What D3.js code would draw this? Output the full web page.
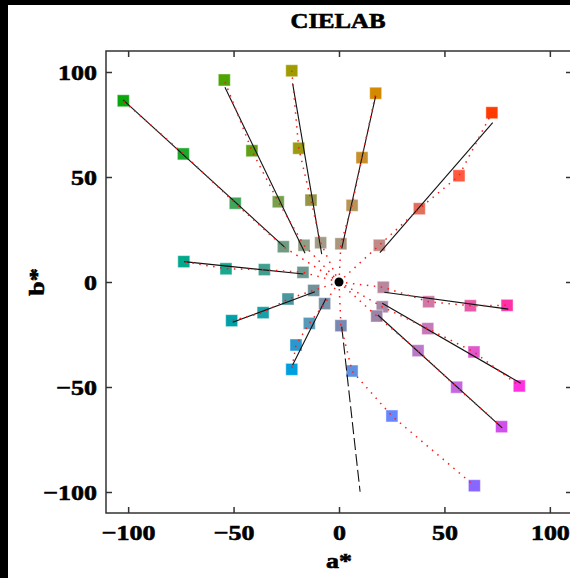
<!DOCTYPE html>
<html>
<head>
<meta charset="utf-8">
<script src="https://cdn.jsdelivr.net/npm/d3@7"></script>
<style>
  html, body { margin: 0; padding: 0; background: #000; }
  svg { display: block; }
  text { font-family: "Liberation Serif", "Times New Roman", serif; font-weight: bold; fill: #000;
         stroke: #000; stroke-width: 0.6px; }
</style>
</head>
<body>
<svg id="chart" width="570" height="578"></svg>
<script>
// ---- data (a*, b* per hue series, 4 chroma steps) ----
const seriesNames = ["green", "yellowGreen", "olive", "gold", "red", "pink",
                     "magenta", "purple", "violet", "teal", "cyan", "blue"];

const aValues = [
  [-102.3, -73.8, -49.2, -26.4],
  [-54.4, -41.3, -28.8, -16.6],
  [-22.4, -19.1, -13.3, -8.7],
  [17.4, 10.9, 6.2, 0.9],
  [72.5, 56.9, 38.1, 19.1],
  [21.0, 42.5, 62.3, 79.7],
  [20.5, 42.1, 64.0, 85.5],
  [17.9, 37.5, 55.8, 77.1],
  [0.9, 6.2, 25.1, 64.2],
  [-73.6, -53.6, -35.4, -17.1],
  [-50.9, -36.0, -24.2, -12.0],
  [-6.8, -14.1, -20.4, -22.4]
];

const bValues = [
  [86.3, 61.0, 37.5, 16.8],
  [96.2, 62.5, 38.2, 17.5],
  [100.6, 63.7, 39.0, 18.7],
  [89.9, 59.2, 36.5, 18.2],
  [80.6, 50.6, 34.9, 17.5],
  [-2.5, -9.4, -11.3, -11.1],
  [-11.8, -22.2, -33.3, -49.5],
  [-16.2, -32.7, -50.1, -68.9],
  [-20.8, -42.4, -63.8, -97.0],
  [9.7, 6.3, 5.9, 4.6],
  [-18.4, -14.6, -8.1, -4.0],
  [-10.3, -19.7, -30.0, -41.6]
];

const chipColors = [
  ["#08a80c", "#1ca82c", "#40a65c", "#6e9c80"],
  ["#4ea400", "#5ea014", "#78a04c", "#8e9e84"],
  ["#a09c00", "#9c9a10", "#969446", "#a09c86"],
  ["#d48a00", "#c8902c", "#b89458", "#a8967e"],
  ["#ff3c00", "#ff5a40", "#e0705c", "#c08a86"],
  ["#b8889e", "#d078a8", "#e85aa8", "#ff30a8"],
  ["#a888a8", "#c878b8", "#e058cc", "#ff30e0"],
  ["#9c84a8", "#b87ac8", "#c468e0", "#d050ec"],
  ["#7888b0", "#6090e0", "#6688ff", "#8866ff"],
  ["#00a88c", "#18a890", "#40a090", "#6e9890"],
  ["#00a0a8", "#18a0a8", "#4898a0", "#70909a"],
  ["#7890a8", "#5898b8", "#2898d0", "#00a0e0"]
];

// fitted lines (black), start and end in a*, b*
const fitFromA = [-102.4, -54.1, -22.0, 17.4, 72.9, 21.5, 20.5, 18.4, 1.3, -73.5, -50.4, -6.2];
const fitFromB = [86.7, 92.7, 94.6, 88.6, 75.9, -4.9, -10.1, -15.7, -21.3, 9.7, -19.2, -7.8];
const fitToA   = [-25.9, -16.1, -8.2, 1.3, 19.4, 80.3, 86.2, 77.4, 10.0, -16.9, -11.4, -22.0];
const fitToB   = [16.7, 13.7, 13.3, 16.0, 14.0, -12.9, -48.2, -69.5, -99.9, 3.8, -4.6, -39.5];
const fitDashed = [false, false, false, false, false, false, false, false, true, false, false, false];

const xTicks = [-100, -50, 0, 50, 100];
const yTicks = [-100, -50, 0, 50, 100];

// ---- layout ----
const svg = d3.select("#chart");
const W = 570, H = 578;
const plot = { left: 106, right: 572, top: 51, bottom: 513 };
const stretch = 1.18; // the reference glyphs are a bit wide

svg.append("rect").attr("x", 8).attr("y", 5).attr("width", W - 8).attr("height", H - 5).attr("fill", "#fff");

const x = d3.scaleLinear().domain([-110.5, 110.5]).range([plot.left, plot.right]);
const y = d3.scaleLinear().domain([-110, 110]).range([plot.bottom, plot.top]);

// frame
svg.append("rect")
  .attr("x", plot.left).attr("y", plot.top)
  .attr("width", plot.right - plot.left).attr("height", plot.bottom - plot.top)
  .attr("fill", "none").attr("stroke", "#333").attr("stroke-width", 1.5);

// axes with inward ticks
function styleAxis(g) {
  g.select(".domain").remove();
  g.selectAll(".tick line").attr("stroke", "#333").attr("stroke-width", 1.5);
  g.selectAll("text").attr("font-family", null).attr("font-size", null);
}

const gx = svg.append("g")
  .attr("transform", `translate(0,${plot.bottom})`)
  .call(d3.axisBottom(x).tickValues(xTicks).tickSize(-6).tickPadding(27).tickFormat(d3.format("d")))
  .call(styleAxis);
gx.selectAll("text").style("font-size", "22px").attr("dy", 0)
  .attr("transform", `scale(${stretch},1)`);

svg.append("g")
  .attr("transform", `translate(0,${plot.top})`)
  .call(d3.axisTop(x).tickValues(xTicks).tickSize(-6).tickFormat(""))
  .call(styleAxis);

const gy = svg.append("g")
  .attr("transform", `translate(${plot.left},0)`)
  .call(d3.axisLeft(y).tickValues(yTicks).tickSize(-6).tickPadding(9).tickFormat(d3.format("d")))
  .call(styleAxis);
gy.selectAll("text").style("font-size", "22px").attr("dy", "0.36em")
  .attr("x", -9 / stretch).attr("transform", `scale(${stretch},1)`);

svg.append("g")
  .attr("transform", `translate(${plot.right},0)`)
  .call(d3.axisRight(y).tickValues(yTicks).tickSize(-6).tickFormat(""))
  .call(styleAxis);

// titles
svg.append("text")
  .attr("transform", `translate(338,28) scale(${stretch},1)`)
  .attr("text-anchor", "middle").style("font-size", "21px")
  .text("CIELAB");

svg.append("text")
  .attr("transform", `translate(339,568) scale(${stretch},1)`)
  .attr("text-anchor", "middle").style("font-size", "22px")
  .text("a*");

svg.append("text")
  .attr("transform", `translate(44,282) rotate(-90) scale(${stretch},1)`)
  .attr("text-anchor", "middle").style("font-size", "22px")
  .text("b*");

// ---- marks ----
const series = seriesNames.map((name, i) => ({
  name,
  chips: aValues[i].map((a, j) => ({ a, b: bValues[i][j], color: chipColors[i][j] })),
  from: [fitFromA[i], fitFromB[i]],
  to: [fitToA[i], fitToB[i]],
  dashed: fitDashed[i]
}));

const sq = 12;
svg.append("g").selectAll("g")
  .data(series).join("g")
  .selectAll("rect")
  .data(d => d.chips).join("rect")
  .attr("x", d => x(d.a) - sq / 2)
  .attr("y", d => y(d.b) - sq / 2)
  .attr("width", sq).attr("height", sq)
  .attr("fill", d => d.color)
  .attr("stroke", "#fff").attr("stroke-opacity", 0.45).attr("stroke-width", 1);

// fitted black lines
svg.append("g").selectAll("line")
  .data(series).join("line")
  .attr("x1", d => x(d.from[0])).attr("y1", d => y(d.from[1]))
  .attr("x2", d => x(d.to[0])).attr("y2", d => y(d.to[1]))
  .attr("stroke", "#111").attr("stroke-width", 1.1)
  .attr("stroke-dasharray", d => d.dashed ? "12,4" : null);

// red dotted paths from the origin through the chips
const redLine = d3.line().x(d => x(d.a)).y(d => y(d.b));
svg.append("g").selectAll("path")
  .data(series).join("path")
  .attr("d", d => redLine([{ a: 0, b: 0 }, ...d.chips.slice().sort((p, q) => (p.a * p.a + p.b * p.b) - (q.a * q.a + q.b * q.b))]))
  .attr("fill", "none").attr("stroke", "#ff1a1a").attr("stroke-width", 1.5)
  .attr("stroke-dasharray", "1.5,5.5");

// neutral point
svg.append("circle").attr("cx", x(0)).attr("cy", y(0)).attr("r", 4.5).attr("fill", "#000");
</script>
</body>
</html>
